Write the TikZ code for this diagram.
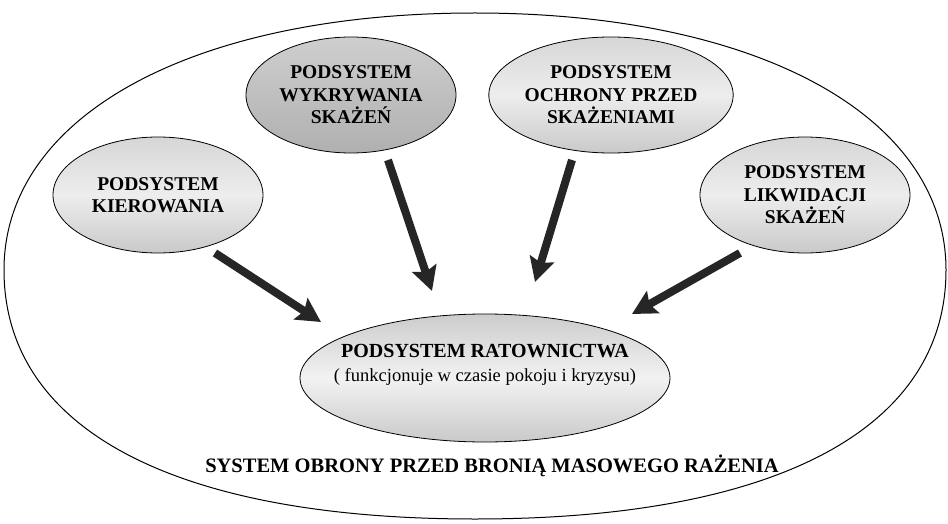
\documentclass[tikz,border=0pt]{standalone}
\usepackage{fontspec}
\setmainfont{Liberation Serif}
\usetikzlibrary{shapes.geometric,arrows.meta}
\begin{document}
\begin{tikzpicture}[x=1pt,y=-1pt,
  subsys/.style={ellipse, draw=black, line width=0.8pt,
    minimum width=210pt, minimum height=116pt, inner sep=0pt,
    top color=gray!32, bottom color=gray!42, middle color=gray!14,
    align=center, font=\fontsize{19.5}{22.5}\selectfont\bfseries},
  mainsys/.style={ellipse, draw=black, line width=0.8pt,
    minimum width=370pt, minimum height=128pt, inner sep=0pt,
    top color=gray!40, bottom color=gray!42, middle color=gray!10},
  flow/.style={draw=black!85, line width=8pt,
    -{Stealth[length=24pt,width=25pt,inset=4pt]}},
  caption/.style={font=\fontsize{20.5}{24}\selectfont\bfseries}
]
\useasboundingbox (0,0) rectangle (948,524);
\fill[white] (0,0) rectangle (948,524);

% enclosing system boundary: an oval, a little squarer than an ellipse
\draw[line width=1pt]
  (475,13) .. controls (758,13) and (946,116) .. (946,270)
           .. controls (946,429) and (776,519) .. (475,519)
           .. controls (174,519) and (4,429) .. (4,270)
           .. controls (4,116) and (192,13) .. cycle;

% subsystems
\node[subsys] (kier) at (158,195) {PODSYSTEM\\KIEROWANIA};
\node[subsys, top color=gray!38, bottom color=gray!62] (wykr) at (351,95) {PODSYSTEM\\WYKRYWANIA\\SKAŻEŃ};
\node[subsys] (ochr) at (611,95) {PODSYSTEM\\OCHRONY PRZED\\SKAŻENIAMI};
\node[subsys] (likw) at (805,195) {PODSYSTEM\\LIKWIDACJI\\SKAŻEŃ};

% rescue subsystem in the middle
\node[mainsys] (rat) at (485,378) {};
\node[align=center, font=\fontsize{18.5}{24}\selectfont] (ratlbl) at (485,365)
  {{\fontsize{20}{24}\selectfont\bfseries PODSYSTEM RATOWNICTWA}\\( funkcjonuje w czasie pokoju i kryzysu)};

% system name
\node[caption] (title) at (492,466) {SYSTEM OBRONY PRZED BRONIĄ MASOWEGO RAŻENIA};

% arrow ends
\coordinate (k1) at (215,253);  \coordinate (k2) at (321,322);
\coordinate (w1) at (388,160);  \coordinate (w2) at (432,291);
\coordinate (o1) at (572,160);  \coordinate (o2) at (535,282);
\coordinate (l1) at (740,253);  \coordinate (l2) at (632,314);

\draw[flow] (k1) -- (k2);
\draw[flow] (w1) -- (w2);
\draw[flow] (o1) -- (o2);
\draw[flow] (l1) -- (l2);
\end{tikzpicture}
\end{document}
